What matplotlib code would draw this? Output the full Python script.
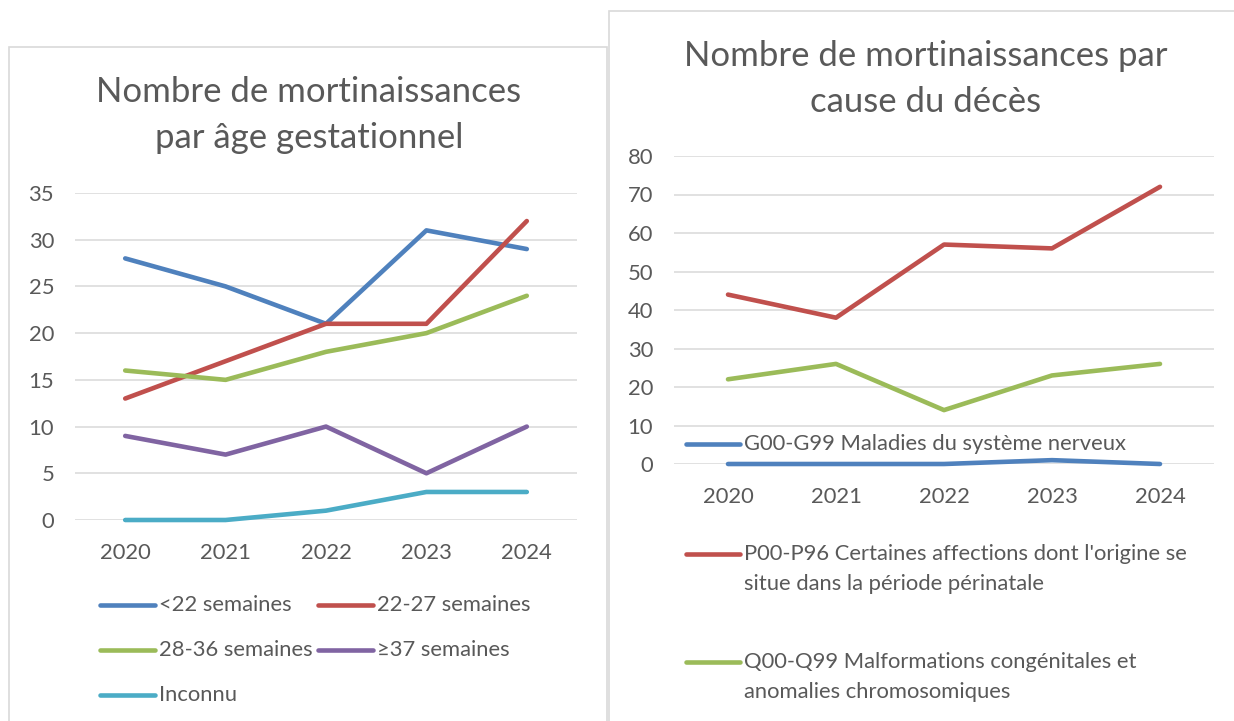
import matplotlib
matplotlib.use("Agg")
import matplotlib.pyplot as plt
from matplotlib.lines import Line2D
from matplotlib.patches import Rectangle

plt.rcParams["font.family"] = ["Lato", "DejaVu Sans"]

years = ["2020", "2021", "2022", "2023", "2024"]

age_labels = ["<22 semaines", "22-27 semaines", "28-36 semaines", "≥37 semaines", "Inconnu"]
age_lt22 = [28, 25, 21, 31, 29]
age_22_27 = [13, 17, 21, 21, 32]
age_28_36 = [16, 15, 18, 20, 24]
age_ge37 = [9, 7, 10, 5, 10]
age_unknown = [0, 0, 1, 3, 3]

cause_labels = ["G00-G99 Maladies du système nerveux",
                "P00-P96 Certaines affections dont l'origine se\nsitue dans la période périnatale",
                "Q00-Q99 Malformations congénitales et\nanomalies chromosomiques"]
cause_g = [0, 0, 0, 1, 0]
cause_p = [44, 38, 57, 56, 72]
cause_q = [22, 26, 14, 23, 26]

BLUE, RED, GREEN, PURPLE, AQUA = "#4F81BD", "#C0504D", "#9BBB59", "#8064A2", "#4BACC6"
TXT, GRID = "#595959", "#D9D9D9"
W, H = 1234, 721
LW = 3.3
FS = 15.8

def fx(x): return x / W
def fy(y): return 1 - y / H

fig = plt.figure(figsize=(W / 100, H / 100), dpi=100)

# panel frames
fig.add_artist(Rectangle((fx(9), fy(760)), fx(607 - 9), (760 - 47) / H, transform=fig.transFigure,
                         fill=False, ec=GRID, lw=1.2))
fig.add_artist(Rectangle((fx(609), fy(760)), fx(1300 - 609), (760 - 11) / H, transform=fig.transFigure,
                         fill=False, ec=GRID, lw=1.2))

def style(ax, ymax, step):
    ax.set_xlim(-0.5, 4.5)
    ax.set_ylim(0, ymax)
    ax.set_yticks(range(0, ymax + 1, step))
    ax.set_xticks(range(len(years)))
    ax.set_xticklabels(years)
    for s in ax.spines.values():
        s.set_visible(False)
    ax.grid(axis="y", color=GRID, lw=1.1)
    ax.set_axisbelow(True)
    ax.tick_params(length=0, labelsize=FS, colors=TXT)
    ax.tick_params(axis="x", pad=16.5)
    ax.tick_params(axis="y", pad=15)

# left: by gestational age
ax1 = fig.add_axes([fx(75), fy(520), (577 - 75) / W, (520 - 193) / H])
style(ax1, 35, 5)
age_series = [age_lt22, age_22_27, age_28_36, age_ge37, age_unknown]
age_colors = [BLUE, RED, GREEN, PURPLE, AQUA]
for vals, c in zip(age_series, age_colors):
    ax1.plot(range(len(years)), vals, color=c, lw=LW, solid_capstyle="round",
             solid_joinstyle="round", clip_on=False, zorder=3)

# right: by cause
ax2 = fig.add_axes([fx(674), fy(464), (1214 - 674) / W, (464 - 156) / H])
style(ax2, 80, 10)
cause_series = [cause_g, cause_p, cause_q]
cause_colors = [BLUE, RED, GREEN]
for vals, c in zip(cause_series, cause_colors):
    ax2.plot(range(len(years)), vals, color=c, lw=LW, solid_capstyle="round",
             solid_joinstyle="round", clip_on=False, zorder=3)

# titles
fig.text(fx(309), fy(115), "Nombre de mortinaissances\npar âge gestationnel", ha="center", va="center",
         fontsize=25, color=TXT, linespacing=1.55)
fig.text(fx(926), fy(79), "Nombre de mortinaissances par\ncause du décès", ha="center", va="center",
         fontsize=25, color=TXT, linespacing=1.55)

# legends (drawn by hand to follow the spreadsheet layout)
def legend_entry(x0, x1, y, color, label):
    fig.add_artist(Line2D([fx(x0), fx(x1)], [fy(y), fy(y)], transform=fig.transFigure,
                          color=color, lw=LW, solid_capstyle="round"))
    if "\n" in label:
        fig.text(fx(x1 + 4), fy(y - 10), label, ha="left", va="top", fontsize=FS, color=TXT, linespacing=1.62)
    else:
        fig.text(fx(x1 + 4), fy(y), label, ha="left", va="center", fontsize=FS, color=TXT)

left_pos = [(100, 155, 605), (318, 373, 605), (100, 155, 650), (318, 373, 650), (100, 155, 695)]
for (x0, x1, y), c, lab in zip(left_pos, age_colors, age_labels):
    legend_entry(x0, x1, y, c, lab)

right_pos = [(686, 740, 444), (686, 740, 554), (686, 740, 662)]
for (x0, x1, y), c, lab in zip(right_pos, cause_colors, cause_labels):
    legend_entry(x0, x1, y, c, lab)

fig.savefig("out.png", dpi=100, facecolor="white")
